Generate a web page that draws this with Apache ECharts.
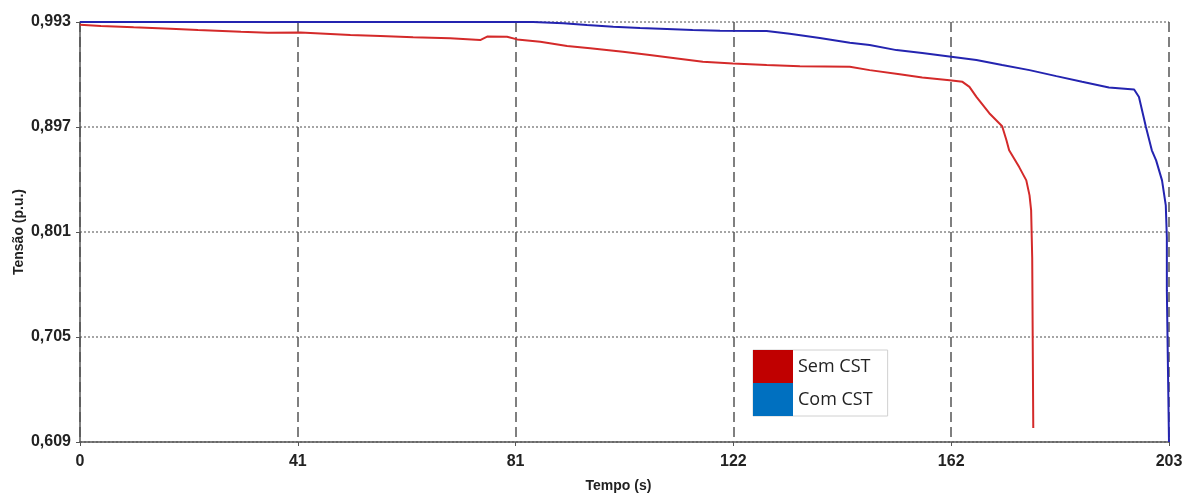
<!DOCTYPE html>
<html><head><meta charset="utf-8">
<script src="https://cdn.jsdelivr.net/npm/echarts@6/dist/echarts.min.js"></script>
<style>html,body{margin:0;padding:0;background:#fff;overflow:hidden}#c{width:1182px;height:495px}</style>
</head><body><div id="c"></div>
<script>
// Tick labels
const xTickLabels = ['0', '41', '81', '122', '162', '203'];
const yTickLabels = ['0,609', '0,705', '0,801', '0,897', '0,993'];
const seriesNames = ['Sem CST', 'Com CST'];

// Sem CST (red)
const semX = [0, 3.9, 10.0, 16.9, 22.0, 30.0, 35.0, 41.1, 50.4, 56.0, 62.1, 69.0, 74.6, 75.9, 79.6, 81.5, 85.8, 90.8, 95.1, 101.2, 106.2, 111.3, 116.1, 121.7, 128.0, 134.2, 143.5, 147.2, 152.8, 157.0, 162.1, 164.5, 165.8, 167.1, 169.5, 171.9, 172.7, 173.2, 175.1, 176.4, 177.0, 177.3, 177.5, 177.7];
const semY = [0.9905, 0.9893, 0.9881, 0.9869, 0.9857, 0.9841, 0.9832, 0.9834, 0.9811, 0.9802, 0.9790, 0.9781, 0.9765, 0.9797, 0.9795, 0.9771, 0.9749, 0.9710, 0.9689, 0.9658, 0.9628, 0.9597, 0.9566, 0.9551, 0.9536, 0.9525, 0.9520, 0.9490, 0.9453, 0.9423, 0.9398, 0.9383, 0.9337, 0.9245, 0.9096, 0.8977, 0.8849, 0.8757, 0.8601, 0.8482, 0.8345, 0.8207, 0.7776, 0.6218];

// Com CST (blue)
const comX = [0, 84.5, 90.1, 94.5, 99.4, 104.4, 109.4, 114.2, 119.3, 128.0, 132.3, 137.9, 143.5, 147.2, 152.2, 157.0, 162.4, 167.1, 171.9, 177.0, 182.0, 186.8, 191.8, 196.5, 197.4, 198.7, 199.8, 200.6, 201.7, 202.4, 202.6, 202.6, 203];
const comY = [0.993, 0.993, 0.9918, 0.9903, 0.9887, 0.9875, 0.9866, 0.9857, 0.9850, 0.9848, 0.9823, 0.9783, 0.9740, 0.9719, 0.9673, 0.9646, 0.9612, 0.9582, 0.9536, 0.9490, 0.9435, 0.9383, 0.9332, 0.9313, 0.9245, 0.8970, 0.8757, 0.8665, 0.8482, 0.8253, 0.7960, 0.7474, 0.609];

const semData = semX.map((x, i) => [x, semY[i]]);
const comData = comX.map((x, i) => [x, comY[i]]);

const labelFont = {fontFamily: "'Liberation Sans',Arial,sans-serif", fontWeight: 'bold', fontSize: 16, color: '#222'};

const chart = echarts.init(document.getElementById('c'), null, {renderer: 'canvas'});
chart.setOption({
  animation: false,
  backgroundColor: '#fff',
  grid: {left: 80, right: 13, top: 22, bottom: 53, containLabel: false, outerBoundsMode: 'none'},
  xAxis: {
    type: 'value', min: 0, max: 203, interval: 40.6,
    name: 'Tempo (s)', nameLocation: 'middle', nameGap: 37, nameMoveOverlap: false,
    nameTextStyle: Object.assign({}, labelFont, {fontSize: 14, padding: [0, 12, 0, 0]}),
    axisLine: {show: true, lineStyle: {color: '#555', width: 1.5}},
    axisTick: {show: true, inside: false, length: 4, lineStyle: {color: '#555'}},
    axisLabel: Object.assign({}, labelFont, {margin: 12, formatter: (v, i) => xTickLabels[i]}),
    splitLine: {show: true, lineStyle: {color: '#555', width: 1.5, type: [10, 5]}}
  },
  yAxis: {
    type: 'value', min: 0.609, max: 0.993, interval: 0.096,
    name: 'Tensão (p.u.)', nameLocation: 'middle', nameGap: 54, nameRotate: 90, nameMoveOverlap: false,
    nameTextStyle: Object.assign({}, labelFont, {fontSize: 14}),
    axisLine: {show: true, lineStyle: {color: '#555', width: 1.5}},
    axisTick: {show: true, inside: false, length: 4, lineStyle: {color: '#555'}},
    axisLabel: Object.assign({}, labelFont, {margin: 9, formatter: (v, i) => yTickLabels[i]}),
    splitLine: {show: true, lineStyle: {color: '#888', width: 1.5, type: [2, 2]}}
  },
  legend: {
    left: 753, top: 350, orient: 'vertical',
    icon: 'rect', itemWidth: 40, itemHeight: 33, itemGap: 0, padding: [0, 15, 0, 0],
    symbolKeepAspect: false,
    borderColor: '#d0d0d0', borderWidth: 1,
    textStyle: {fontFamily: "'Open Sans',Lato,sans-serif", fontSize: 18, color: '#222'},
    itemStyle: {borderWidth: 0},
    data: [
      {name: seriesNames[0], itemStyle: {color: '#c00000'}},
      {name: seriesNames[1], itemStyle: {color: '#0070c0'}}
    ]
  },
  series: [
    {name: seriesNames[0], type: 'line', data: semData, showSymbol: false, lineStyle: {color: '#d42a2a', width: 2}, itemStyle: {color: '#d42a2a'}, z: 3},
    {name: seriesNames[1], type: 'line', data: comData, showSymbol: false, lineStyle: {color: '#2424b0', width: 2}, itemStyle: {color: '#2424b0'}, z: 4}
  ]
});
</script></body></html>
